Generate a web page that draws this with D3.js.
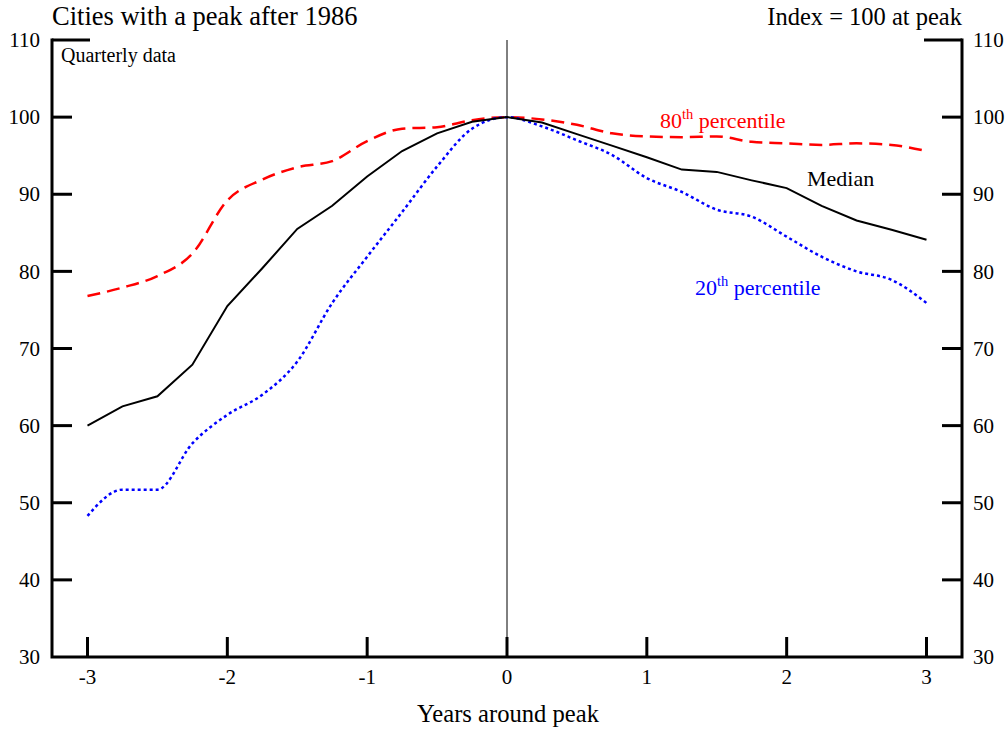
<!DOCTYPE html>
<html>
<head>
<meta charset="utf-8">
<script src="https://cdn.jsdelivr.net/npm/d3@7"></script>
<style>
  body { margin: 0; background: #fff; }
  svg { display: block; font-family: "Liberation Serif", "Times New Roman", serif; }
</style>
</head>
<body>
<svg id="chart" width="1008" height="731"></svg>
<script>
// quarters around the peak, in years
const quarters = [-3, -2.75, -2.5, -2.25, -2, -1.75, -1.5, -1.25, -1, -0.75, -0.5, -0.25, 0,
  0.25, 0.5, 0.75, 1, 1.25, 1.5, 1.75, 2, 2.25, 2.5, 2.75, 3];
const median = [60.0, 62.5, 63.8, 67.9, 75.5, 80.4, 85.5, 88.5, 92.3, 95.6, 97.9, 99.4, 100,
  99.3, 97.8, 96.3, 94.8, 93.2, 92.9, 91.8, 90.8, 88.5, 86.6, 85.4, 84.1];
const pct80 = [76.8, 77.9, 79.4, 82.3, 89.2, 91.9, 93.5, 94.3, 96.9, 98.5, 98.7, 99.6, 100,
  99.7, 99.0, 97.9, 97.5, 97.4, 97.5, 96.8, 96.6, 96.4, 96.6, 96.4, 95.6];
const pct20 = [48.3, 51.7, 51.7, 57.7, 61.4, 64.0, 68.3, 75.9, 81.9, 87.7, 93.6, 98.5, 100,
  98.8, 97.0, 95.1, 92.1, 90.3, 88.0, 87.1, 84.5, 81.9, 80.0, 78.9, 75.9];
const xTicks = [-3, -2, -1, 0, 1, 2, 3];
const yTicks = [30, 40, 50, 60, 70, 80, 90, 100, 110];

const m = {left: 52, right: 962, top: 40, bottom: 657};
const svg = d3.select('#chart');

const x = d3.scaleLinear().domain([-3, 3]).range([87.5, 926.5]);
const y = d3.scaleLinear().domain([30, 110]).range([m.bottom, m.top]);

// frame: left, right, bottom
const frame = svg.append('g').attr('stroke', '#000').attr('stroke-width', 3).attr('fill', 'none');
frame.append('path').attr('d', `M${m.left},${m.top}V${m.bottom}H${m.right}V${m.top}`).attr('stroke-linecap', 'square');

// y ticks both sides, pointing inward
yTicks.filter(d => d > 30).forEach(d => {
  const len = d === 110 ? 38 : 20;
  frame.append('line').attr('x1', m.left).attr('x2', m.left + len).attr('y1', y(d)).attr('y2', y(d));
  frame.append('line').attr('x1', m.right).attr('x2', m.right - len).attr('y1', y(d)).attr('y2', y(d));
});
// x ticks pointing up
xTicks.forEach(d => {
  frame.append('line').attr('x1', x(d)).attr('x2', x(d)).attr('y1', m.bottom).attr('y2', m.bottom - 20);
});

// thin line at the peak
svg.append('line').attr('x1', x(0)).attr('x2', x(0)).attr('y1', m.top).attr('y2', m.bottom)
  .attr('stroke', '#000').attr('stroke-width', 1);

// tick labels
svg.append('g').selectAll('text').data(yTicks).join('text')
  .attr('x', 40).attr('y', d => y(d)).attr('dy', '0.34em').attr('text-anchor', 'end')
  .style('font-size', '21px').text(d => d);
svg.append('g').selectAll('text').data(yTicks).join('text')
  .attr('x', 973).attr('y', d => y(d)).attr('dy', '0.34em').attr('text-anchor', 'start')
  .style('font-size', '21px').text(d => d);
svg.append('g').selectAll('text').data(xTicks).join('text')
  .attr('x', d => x(d)).attr('y', 684).attr('text-anchor', 'middle')
  .style('font-size', '21px').text(d => d < 0 ? '-' + Math.abs(d) : d);

// titles
svg.append('text').attr('x', 52).attr('y', 25).style('font-size', '26.5px').text('Cities with a peak after 1986');
svg.append('text').attr('x', 962).attr('y', 25).attr('text-anchor', 'end').style('font-size', '24.5px').text('Index = 100 at peak');
svg.append('text').attr('x', 61).attr('y', 62).style('font-size', '20px').text('Quarterly data');
svg.append('text').attr('x', 508).attr('y', 722).attr('text-anchor', 'middle').style('font-size', '24.6px').text('Years around peak');

// series
const series = [
  {values: pct80, color: '#ff0000', width: 2.5, dash: '13,7', curve: d3.curveMonotoneX},
  {values: pct20, color: '#0000ff', width: 2.5, dash: '3,3', curve: d3.curveMonotoneX},
  {values: median, color: '#000', width: 2, dash: null, curve: d3.curveLinear}
];
series.forEach(s => {
  const line = d3.line().x((d, i) => x(quarters[i])).y(d => y(d)).curve(s.curve);
  svg.append('path').datum(s.values).attr('d', line).attr('fill', 'none')
    .attr('stroke', s.color).attr('stroke-width', s.width).attr('stroke-dasharray', s.dash);
});

// series labels
function label(xp, yp, num, sup, rest, color) {
  const t = svg.append('text').attr('x', xp).attr('y', yp).attr('fill', color).style('font-size', '22px');
  t.append('tspan').text(num);
  if (sup) t.append('tspan').attr('dy', -9).style('font-size', '14.5px').text(sup);
  t.append('tspan').attr('dy', sup ? 9 : 0).text(rest);
}
label(660, 128, '80', 'th', ' percentile', '#ff0000');
label(807, 186, 'Median', null, '', '#000');
label(695, 295, '20', 'th', ' percentile', '#0000ff');
</script>
</body>
</html>
